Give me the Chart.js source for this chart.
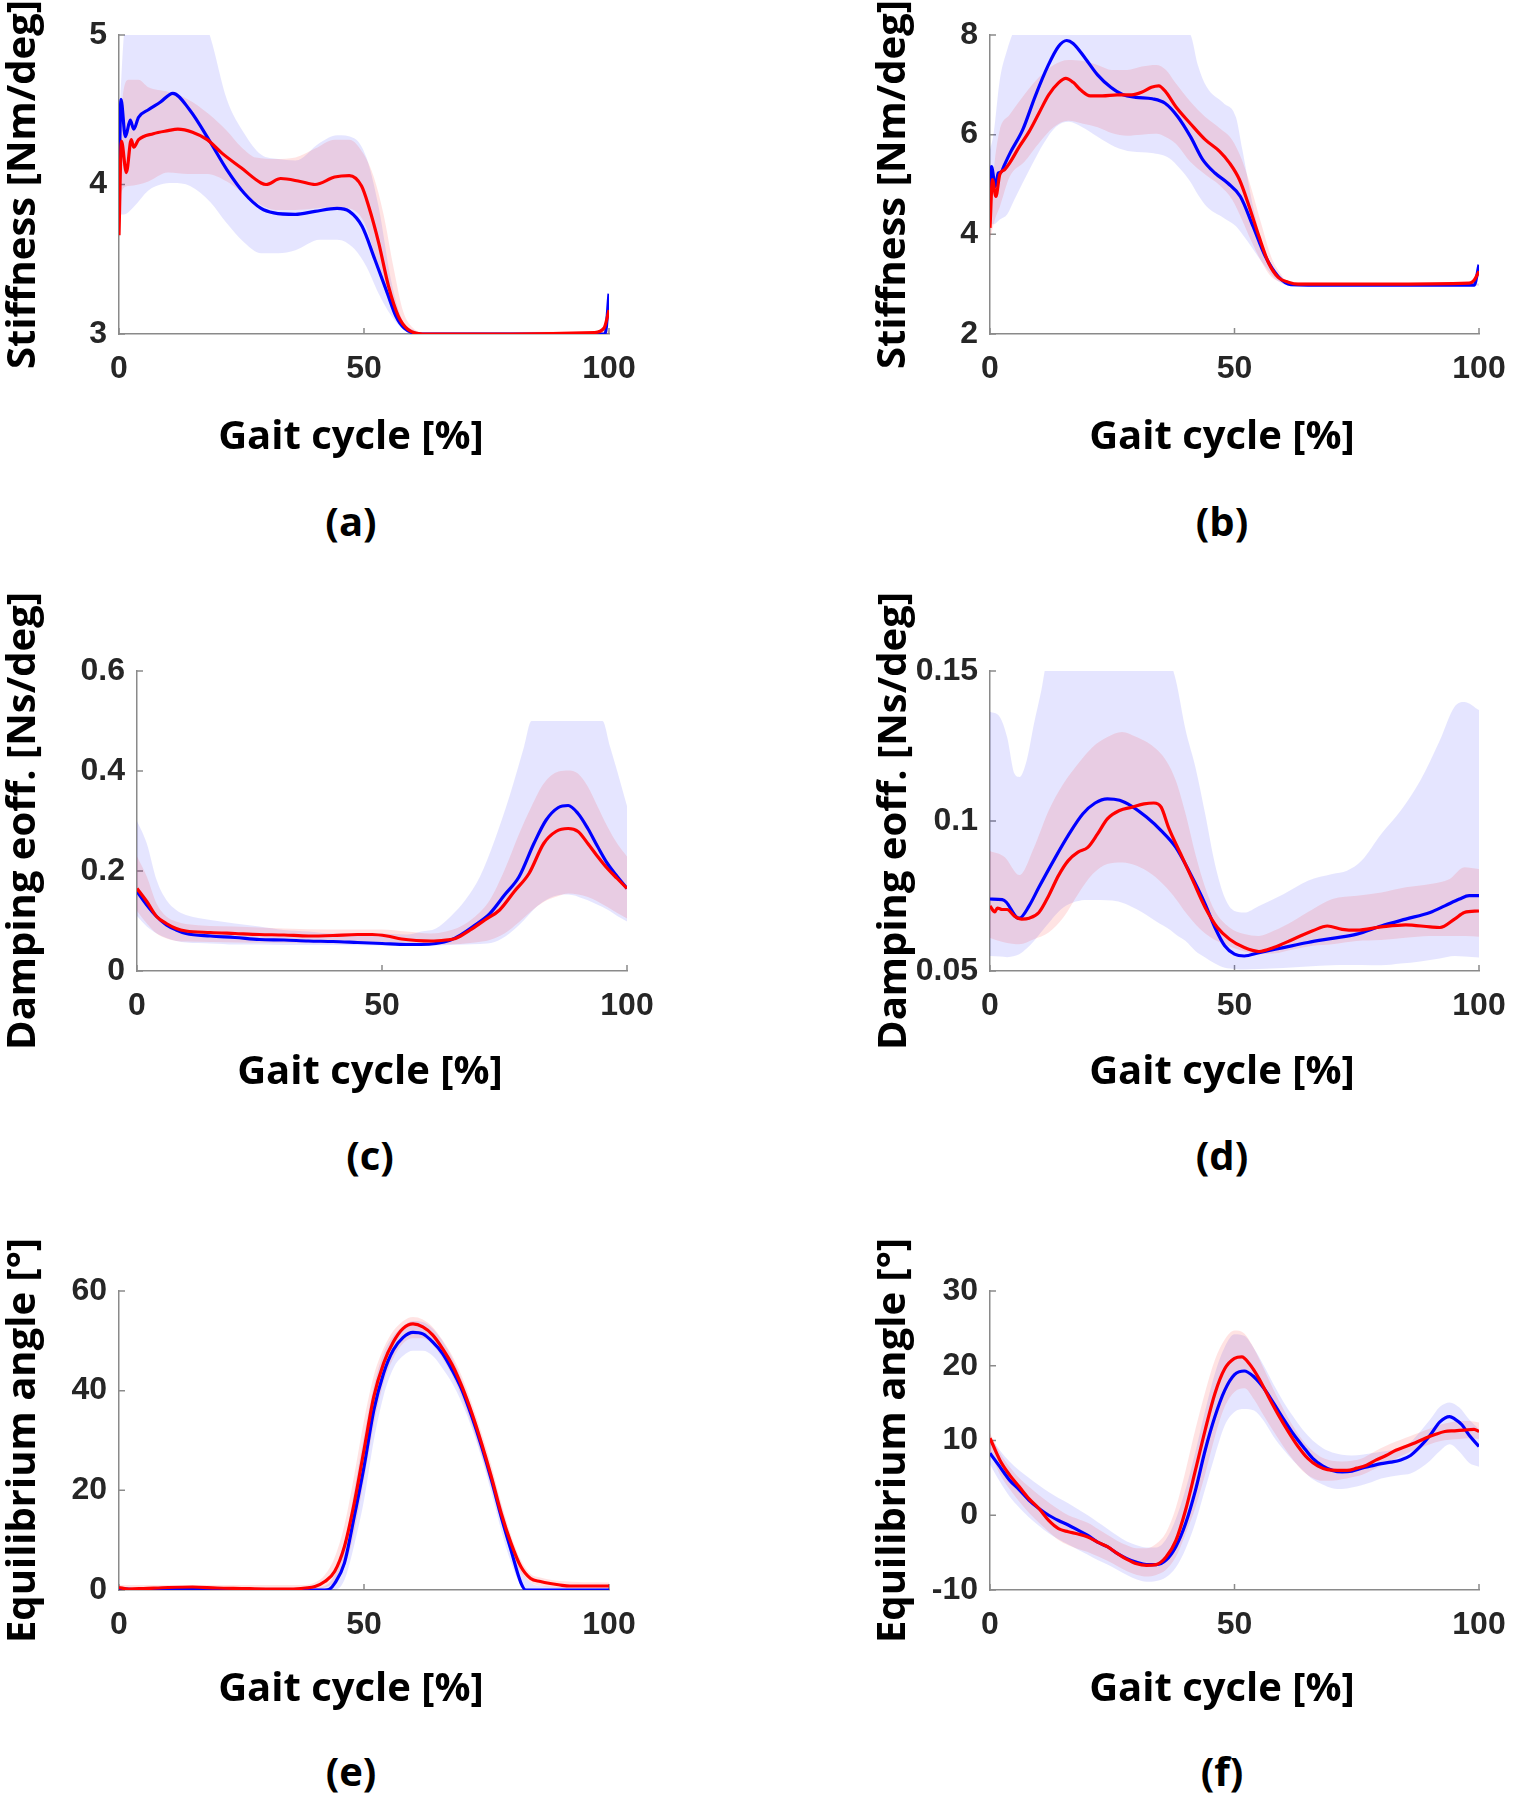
<!DOCTYPE html>
<html>
<head>
<meta charset="utf-8">
<script src="https://cdn.jsdelivr.net/npm/chart.js@4.4.1/dist/chart.umd.min.js"></script>
<style>
  html, body { margin: 0; padding: 0; background: #fff; }
  body { width: 1516px; height: 1800px; position: relative; overflow: hidden; }
  canvas { position: absolute; }
  .lbl { position: absolute; transform: translate(-50%, -50%); font: bold 40px "Open Sans", Lato, sans-serif; color: #000; white-space: nowrap; line-height: 1.2; }
</style>
</head>
<body>
<canvas id="chartA"></canvas>
<canvas id="chartB"></canvas>
<canvas id="chartC"></canvas>
<canvas id="chartD"></canvas>
<canvas id="chartE"></canvas>
<canvas id="chartF"></canvas>

<div class="lbl" style="left:351px; top:434px">Gait cycle [%]</div>
<div class="lbl" style="left:351px; top:521px">(a)</div>
<div class="lbl" style="left:1222px; top:434px">Gait cycle [%]</div>
<div class="lbl" style="left:1222px; top:521px">(b)</div>
<div class="lbl" style="left:370px; top:1069px">Gait cycle [%]</div>
<div class="lbl" style="left:370px; top:1155px">(c)</div>
<div class="lbl" style="left:1222px; top:1069px">Gait cycle [%]</div>
<div class="lbl" style="left:1222px; top:1155px">(d)</div>
<div class="lbl" style="left:351px; top:1686px">Gait cycle [%]</div>
<div class="lbl" style="left:351px; top:1771px">(e)</div>
<div class="lbl" style="left:1222px; top:1686px">Gait cycle [%]</div>
<div class="lbl" style="left:1222px; top:1771px">(f)</div>

<script>
'use strict';

// gait cycle ticks, shared by every panel
let xTicks = [0, 50, 100];

// (a) stiffness
let aTicks = [3, 4, 5];
let aBlue = [[0,3.96],[0.4,4.57],[1.3,4.32],[2.3,4.43],[3,4.37],[4,4.45],[6,4.5],[8.4,4.55],[11,4.61],[14.4,4.5],[18.7,4.28],[22,4.1],[25.6,3.94],[29,3.84],[31.6,3.81],[36,3.8],[40,3.82],[44.5,3.84],[47,3.82],[49.6,3.72],[52.2,3.5],[54.8,3.27],[56.5,3.12],[58.2,3.04],[61.6,3.0],[70,3.0],[80,3.0],[90,3.0],[99.2,3.0],[100,3.27]];
let aRed = [[0,3.66],[0.5,4.29],[1.5,4.08],[2.5,4.3],[3,4.25],[4,4.3],[7,4.34],[10,4.36],[12,4.37],[15,4.35],[18,4.3],[21,4.21],[25,4.11],[29,4.01],[30,4.0],[33,4.04],[37,4.02],[40,4.0],[44,4.05],[47,4.06],[49.5,3.99],[51,3.85],[53,3.61],[55,3.32],[57,3.12],[59,3.03],[62,3.0],[80,3.0],[97,3.01],[99,3.04],[100,3.16]];
let aBlueBandX = [0,1,3,6,8.5,11,14.5,18.7,22,25.6,29,32.5,36,41,44.5,48,50.5,53,55.6,58,60,62,80,100];
let aBlueHigh = [4.4,5.0,5.3,5.4,5.45,5.45,5.35,4.98,4.57,4.34,4.2,4.17,4.16,4.28,4.33,4.31,4.18,3.85,3.35,3.08,3.03,3.01,3.01,3.01];
let aBlueLow = [3.8,3.8,3.85,3.96,4.0,4.01,3.99,3.88,3.74,3.61,3.54,3.54,3.56,3.63,3.63,3.57,3.45,3.27,3.12,3.03,3.0,3.0,2.99,2.99];
let aRedBandX = [0,0.5,2,4,6,10,14,18,22,25,28,32,36,40,44,47,50,52,54,56,58,60,62,100];
let aRedHigh = [3.75,4.5,4.7,4.7,4.65,4.62,4.57,4.48,4.36,4.25,4.18,4.17,4.18,4.24,4.3,4.3,4.2,4.05,3.8,3.45,3.15,3.04,3.01,3.02];
let aRedLow = [3.6,3.95,3.99,4.0,4.02,4.08,4.07,4.07,4.02,3.95,3.88,3.83,3.83,3.84,3.85,3.84,3.75,3.55,3.32,3.15,3.06,3.02,3.0,3.0];

// (b) stiffness
let bTicks = [2, 4, 6, 8];
let bBlue = [[0,4.45],[0.3,5.36],[1.1,4.96],[1.7,5.23],[2.3,5.25],[2.8,5.36],[4.1,5.63],[6.7,6.1],[9.2,6.76],[11.8,7.37],[14,7.77],[15.7,7.89],[17,7.83],[19.5,7.53],[22,7.2],[24.7,6.95],[27.2,6.8],[29.8,6.75],[33.2,6.72],[35.8,6.63],[38.4,6.36],[41,5.96],[43.5,5.5],[46,5.23],[48.6,5.03],[51.2,4.76],[53.8,4.16],[56.3,3.56],[58.9,3.16],[61.5,2.99],[70,2.98],[85,2.98],[99,2.98],[100,3.39]];
let bRed = [[0,4.13],[0.5,5.1],[1.2,4.76],[2,5.2],[3,5.3],[4,5.43],[6,5.76],[8,6.06],[10,6.43],[12,6.8],[14,7.04],[15.5,7.13],[17,7.05],[18.5,6.9],[20.5,6.78],[23,6.78],[26,6.8],[29,6.8],[31,6.85],[33,6.95],[34.5,6.98],[36,6.85],[38,6.56],[41,6.22],[44,5.9],[47,5.66],[49,5.43],[51,5.1],[53,4.56],[55,3.96],[57,3.42],[59,3.13],[61,3.04],[63,3.0],[80,3.0],[98,3.02],[99,3.08],[100,3.26]];
let bBlueBandX = [0,0.7,2,3.5,5,8.4,11,13.5,16.1,18.7,22,25.5,29,33,36.6,39,41,42.5,44.3,47.8,50.3,51.6,53.8,56.3,58.9,62,100];
let bBlueHigh = [5.7,6.0,7.1,7.7,8.1,8.4,8.6,8.7,8.7,8.7,8.6,8.5,8.4,8.3,8.2,8.1,8.0,7.4,6.96,6.63,6.35,5.7,4.56,3.62,3.12,3.0,3.0];
let bBlueLow = [4.2,4.2,4.3,4.4,4.7,5.36,5.83,6.16,6.26,6.16,5.96,5.76,5.66,5.63,5.53,5.3,5.05,4.8,4.56,4.33,4.16,4.0,3.7,3.35,3.06,2.97,2.97];
let bRedBandX = [0,1,2,4,7,10,13,16,19,22,25,28,31,34,36,38,41,44,47,49.5,51.5,53.5,55.5,57.5,59.5,61,100];
let bRedHigh = [4.5,5.5,6.1,6.4,6.8,7.15,7.4,7.5,7.48,7.4,7.3,7.3,7.37,7.4,7.3,7.03,6.66,6.36,6.13,5.9,5.5,4.9,4.2,3.55,3.2,3.05,3.02];
let bRedLow = [3.9,4.3,4.55,5.15,5.45,5.83,6.15,6.28,6.22,6.15,6.03,5.98,6.0,6.02,5.95,5.82,5.45,5.2,4.98,4.7,4.3,3.85,3.45,3.15,3.04,3.0,2.98];

// (c) damping coefficient
let cTicks = [0, 0.2, 0.4, 0.6];
let cBlue = [[0,0.159],[2,0.132],[4,0.109],[6,0.092],[8,0.082],[10,0.075],[15,0.07],[20,0.067],[25,0.063],[30,0.062],[35,0.06],[40,0.059],[45,0.057],[50,0.055],[55,0.053],[58,0.053],[61,0.055],[64,0.062],[66,0.072],[69,0.092],[72,0.115],[75,0.152],[78,0.189],[81,0.255],[83.5,0.302],[86,0.327],[88,0.331],[90,0.315],[92,0.285],[94,0.249],[96,0.215],[98,0.189],[100,0.165]];
let cRed = [[0,0.165],[2,0.139],[4,0.109],[6,0.095],[8,0.085],[10,0.08],[15,0.077],[20,0.075],[25,0.073],[30,0.072],[35,0.07],[40,0.071],[45,0.073],[48,0.073],[51,0.07],[54,0.064],[57,0.061],[60,0.06],[63,0.062],[65,0.065],[68,0.082],[71,0.102],[74,0.122],[77,0.159],[80,0.195],[83,0.255],[85.5,0.279],[88,0.285],[90,0.279],[92,0.255],[94,0.229],[96,0.205],[98,0.185],[100,0.165]];
let cBlueBandX = [0,2,4,6,8,10,15,20,25,30,35,40,50,55,58,61,64,67,70,73,76,79,80.5,82,85,88,91,95,96.5,98,100];
let cBlueHigh = [0.3,0.255,0.182,0.142,0.122,0.112,0.102,0.095,0.089,0.082,0.079,0.075,0.075,0.073,0.079,0.085,0.109,0.142,0.189,0.262,0.349,0.449,0.5,0.5,0.5,0.5,0.5,0.5,0.45,0.4,0.33];
let cBlueLow = [0.11,0.089,0.075,0.066,0.06,0.057,0.055,0.053,0.053,0.052,0.052,0.052,0.051,0.051,0.051,0.051,0.052,0.053,0.054,0.058,0.075,0.102,0.118,0.132,0.149,0.153,0.145,0.128,0.12,0.11,0.099];
let cRedBandX = [0,2,4,6,8,10,20,30,40,50,55,60,63,66,69,72,75,78,80.5,83,86,88,90,92,94,96,98,100];
let cRedHigh = [0.229,0.189,0.135,0.109,0.099,0.094,0.089,0.085,0.083,0.083,0.079,0.075,0.079,0.089,0.109,0.142,0.202,0.275,0.329,0.375,0.399,0.401,0.395,0.369,0.329,0.289,0.255,0.229];
let cRedLow = [0.12,0.095,0.075,0.065,0.06,0.059,0.057,0.056,0.055,0.054,0.053,0.053,0.053,0.054,0.057,0.062,0.075,0.098,0.12,0.138,0.15,0.155,0.153,0.148,0.139,0.128,0.116,0.105];

// (d) damping coefficient
let dTicks = [0.05, 0.1, 0.15];
let dBlue = [[0,0.074],[2.5,0.0738],[3.3,0.073],[5.5,0.0678],[6,0.0676],[8,0.0717],[10,0.0779],[13,0.0868],[16,0.0952],[19,0.1024],[21.5,0.106],[24,0.1074],[26.5,0.1069],[29,0.1049],[32,0.1013],[35,0.0968],[38,0.0912],[41,0.0823],[44,0.0723],[46,0.0645],[48,0.0584],[50,0.0556],[52,0.055],[55,0.0561],[60,0.0578],[65,0.0595],[70,0.0609],[75,0.0623],[80,0.065],[85,0.0673],[90,0.0695],[93,0.0717],[96,0.074],[98,0.0751],[100,0.0751]];
let dRed = [[0,0.0717],[1,0.0697],[1.5,0.071],[2.5,0.0705],[3.5,0.0705],[5,0.0683],[6.5,0.0673],[8,0.0676],[10,0.0695],[12,0.0751],[14,0.0818],[16,0.0868],[18,0.0896],[20,0.0912],[22,0.0957],[24,0.1007],[26.5,0.1035],[29,0.1046],[31.5,0.1057],[33.5,0.106],[35,0.1046],[36.5,0.0979],[39,0.089],[41.5,0.0801],[44,0.0712],[46.5,0.0645],[49,0.0606],[52,0.0578],[55,0.0565],[58,0.0578],[62,0.0606],[66,0.0634],[69,0.065],[72,0.0639],[75,0.0636],[80,0.0647],[85,0.0654],[90,0.0647],[92,0.0645],[95,0.0673],[97,0.0695],[100,0.07]];
let dBlueBandX = [0,2,3.5,5,6,7.5,9,10.5,11.5,15,20,25,30,34,37,38,40,42,44,46,48,50,52,55,60,65,70,73,76,80,84,88,92,95,97,100];
let dBlueHigh = [0.1364,0.1347,0.128,0.1158,0.1147,0.1202,0.1325,0.1436,0.152,0.156,0.157,0.157,0.156,0.155,0.152,0.147,0.1303,0.118,0.1024,0.0857,0.0745,0.07,0.0695,0.0717,0.0756,0.0801,0.0823,0.0834,0.0868,0.0957,0.1035,0.1135,0.1269,0.1381,0.1397,0.137];
let dBlueLow = [0.055,0.0548,0.0546,0.055,0.0556,0.0575,0.06,0.063,0.065,0.0712,0.0737,0.0735,0.0706,0.0665,0.0635,0.0622,0.06,0.0567,0.0545,0.0525,0.0511,0.0507,0.0505,0.0507,0.051,0.0515,0.0519,0.052,0.052,0.0519,0.0525,0.0532,0.0542,0.055,0.0548,0.0545];
let dRedBandX = [0,3,6,9,12,15,18,21,24,27,30,33,36,38,40,42,44,46,49,52,55,58,62,66,70,75,80,85,90,94,97,100];
let dRedHigh = [0.09,0.088,0.082,0.0912,0.1035,0.1124,0.1191,0.1247,0.128,0.1297,0.128,0.1253,0.1202,0.1135,0.1024,0.089,0.0779,0.07,0.0645,0.0623,0.0617,0.0634,0.0667,0.0706,0.074,0.0751,0.0762,0.0779,0.079,0.0807,0.0846,0.084];
let dRedLow = [0.061,0.0595,0.0589,0.0606,0.0628,0.0678,0.0756,0.0823,0.0857,0.0862,0.0851,0.0823,0.0779,0.074,0.0695,0.0656,0.0625,0.0603,0.0582,0.0565,0.0556,0.0558,0.0572,0.0584,0.0589,0.06,0.0603,0.0611,0.0617,0.0617,0.0617,0.0614];

// (e) equilibrium angle
let eTicks = [0, 20, 40, 60];
let eBlue = [[0,0.3],[5,0],[10,0.3],[15,0.2],[20,0.1],[30,0],[40,0],[42,0],[43,0.2],[44,1.3],[46,5.4],[48,14.7],[50,24.7],[52,36.1],[54,43.5],[56,48.2],[58,50.7],[60,51.7],[62,51.4],[64,49.8],[66,47.5],[68,44.1],[70,40.1],[72,34.8],[74,28.8],[76,22.1],[78,14.7],[80,8],[82,1.5],[83,0],[90,0],[100,0]];
let eRed = [[0,0.5],[2,0.2],[5,0.3],[10,0.5],[15,0.6],[20,0.4],[25,0.3],[30,0.2],[35,0.2],[38,0.4],[40,0.7],[42,1.7],[44,3.7],[46,8.7],[48,17.4],[50,28.1],[52,38.8],[54,45.5],[56,49.8],[58,52.5],[60,53.4],[62,52.8],[64,51.2],[66,48.5],[68,45.2],[70,40.8],[72,35.5],[74,29.4],[76,22.7],[78,15.4],[80,9.4],[82,4.7],[84,2.3],[86,1.7],[88,1.3],[90,1.0],[92,0.8],[100,0.8]];
let eBlueBandX = [0,40,42,44,46,48,50,52,54,56,58,60,62,64,66,68,70,72,74,76,78,80,82,84,86,100];
let eBlueHigh = [0.5,0.5,0.8,3,9,20,31,41,47.5,51,53,54,53.8,52.5,50,46.5,42,36.5,30.5,24,17,10,4,1.5,0.8,0.5];
let eBlueLow = [0,0,0,0,2,9,18,30,39,44.5,47,48,48,47,44.5,41.5,37.5,32.5,26.5,19.5,12,5.5,1,0,0,0];
let eRedBandX = [0,38,40,42,44,46,48,50,52,54,56,58,60,62,64,66,68,70,72,74,76,78,80,82,84,86,90,100];
let eRedHigh = [1,1,1.5,3,6.5,13,23,34,43,48.5,52,54,54.8,54.3,52.8,50.2,47,42.8,37.5,31.5,25,17.5,11,6,3.2,2.5,1.8,1.5];
let eRedLow = [0,0,0,0.5,1.5,4.5,11.5,22,33,41.5,46.5,49.5,50.5,50.5,49.2,46.5,43,38.5,33,27,20.5,13.5,7.5,3.5,1.5,0.8,0.4,0.2];

// (f) equilibrium angle
let fTicks = [-10, 0, 10, 20, 30];
let fBlue = [[0,8.3],[2,6.5],[4,4.7],[6,3.4],[8,2.0],[10,0.9],[12,0],[14,-0.7],[16,-1.3],[18,-2.0],[20,-2.7],[22,-3.6],[24,-4.2],[26,-5.1],[28,-5.8],[30,-6.3],[32,-6.6],[34,-6.6],[36,-6.0],[38,-4.2],[40,-1.1],[42,3.3],[44,8.7],[46,13.2],[48,16.7],[50,18.8],[52,19.3],[54,18.5],[56,17.0],[58,15.0],[60,12.9],[62,10.9],[64,9.2],[66,7.6],[68,6.6],[70,6.0],[72,5.8],[74,5.9],[76,6.3],[78,6.6],[80,6.9],[82,7.1],[84,7.4],[86,8.0],[88,9.2],[90,10.7],[92,12.5],[94,13.2],[95,12.9],[96.5,12.1],[98,10.7],[100,9.2]];
let fRed = [[0,10.3],[2,7.4],[4,5.4],[6,3.8],[8,2.2],[10,0.9],[12,-0.7],[14,-1.8],[16,-2.2],[18,-2.5],[20,-2.9],[22,-3.6],[24,-4.2],[26,-5.1],[28,-5.9],[30,-6.5],[32,-6.7],[34,-6.6],[36,-5.6],[38,-3.4],[40,0.7],[42,6.0],[44,11.4],[46,16.3],[48,19.6],[50,21.0],[51.5,21.2],[53,20.3],[55,18.3],[57,15.8],[59,13.4],[61,11.2],[63,9.2],[65,7.6],[67,6.6],[69,6.1],[71,6.0],[73,6.0],[75,6.3],[77,6.7],[79,7.4],[81,8.0],[83,8.7],[85,9.2],[87,9.7],[89,10.3],[91,10.8],[93,11.2],[95,11.3],[97,11.4],[99,11.5],[100,11.2]];
let fBandX = [0,2,4,6,8,10,12,14,16,18,20,22,24,26,28,30,32,34,36,38,40,42,44,46,48,50,52,54,56,58,60,62,64,66,68,70,72,74,76,78,80,82,84,86,88,90,92,94,96,98,100];
let fBlueHigh = [10.5,8.7,7.2,6.0,5.0,4.0,3.1,2.3,1.6,0.8,0,-0.9,-1.8,-2.7,-3.5,-4.0,-4.3,-4.3,-3.2,-0.5,3.5,8.5,14,19,22.5,24.2,24.0,22.3,20,17.5,15.2,13.2,11.4,10.0,9.0,8.4,8.1,8.0,8.1,8.3,8.5,8.7,9.0,9.8,11.2,12.8,14.5,15.1,14.4,12.8,11.5];
let fBlueLow = [6.8,4.5,2.5,1.0,-0.3,-1.4,-2.4,-3.2,-3.9,-4.6,-5.3,-6.0,-6.6,-7.3,-8.0,-8.6,-8.9,-8.8,-8.3,-7.0,-4.5,-1,3.5,8.0,12.0,13.8,14.2,14.0,12.6,10.5,8.8,7.3,6.0,4.8,4.1,3.6,3.5,3.7,4.0,4.4,4.9,5.2,5.4,5.6,6.3,7.3,8.6,9.5,8.5,7.0,6.5];
let fRedHigh = [11,8.4,6.5,5.0,3.8,2.7,1.7,0.8,0,-0.5,-1.0,-1.8,-2.6,-3.4,-4.0,-4.4,-4.4,-3.8,-2.3,1,6,11.5,16.5,20.8,23.5,24.7,24.3,22.3,19.6,16.8,14.2,11.9,10.0,8.6,7.7,7.3,7.2,7.3,7.6,8.3,9.0,9.6,10.1,10.6,11.1,11.6,12.1,12.4,12.6,12.6,12.4];
let fRedLow = [8.5,5.5,3.5,1.8,0.3,-1.0,-2.2,-3.3,-4.0,-4.5,-4.9,-5.5,-6.1,-6.8,-7.5,-8.0,-8.2,-8.0,-7.3,-5.6,-2.5,1.0,5.5,10.5,14.5,16.5,17.0,15.5,13.3,11.2,9.2,7.4,5.9,5.0,4.6,4.6,4.8,5.1,5.4,6.0,6.6,7.2,7.9,8.5,9.0,9.5,9.9,10.1,10.2,10.3,10.2];

let BLUE = '#0000ff';
let RED = '#ff0000';
let BLUE_FILL = 'rgba(0, 0, 255, 0.1)';
let RED_FILL = 'rgba(255, 0, 0, 0.11)';
let AXIS = '#8a8a8a';
let TICK_FONT = { family: '"Liberation Sans", Arial, sans-serif', weight: 'bold', size: 32 };
let TITLE_FONT = { family: '"Open Sans", Lato, sans-serif', weight: 'bold', size: 40 };

function lineSet(label, pairs, color, order) {
    return {
        label: label,
        data: pairs.map(p => ({ x: p[0], y: p[1] })),
        borderColor: color,
        borderWidth: 3.2,
        pointRadius: 0,
        fill: false,
        cubicInterpolationMode: 'monotone',
        order: order
    };
}

function bandSets(label, xs, high, low, color, order) {
    return [{
        label: label + ' upper',
        data: xs.map((x, i) => ({ x: x, y: high[i] })),
        borderColor: 'rgba(0,0,0,0)',
        borderWidth: 0,
        pointRadius: 0,
        backgroundColor: color,
        fill: '+1',
        cubicInterpolationMode: 'monotone',
        order: order
    }, {
        label: label + ' lower',
        data: xs.map((x, i) => ({ x: x, y: low[i] })),
        borderColor: 'rgba(0,0,0,0)',
        borderWidth: 0,
        pointRadius: 0,
        fill: false,
        cubicInterpolationMode: 'monotone',
        order: order
    }];
}

// small inward tick marks like the original axes
let innerTicks = {
    id: 'innerTicks',
    beforeDatasetsDraw(chart) {
        let ctx = chart.ctx;
        let area = chart.chartArea;
        let x = chart.scales.x;
        let y = chart.scales.y;
        ctx.save();
        ctx.strokeStyle = AXIS;
        ctx.lineWidth = 1.5;
        ctx.beginPath();
        x.ticks.forEach(t => {
            let px = x.getPixelForValue(t.value);
            ctx.moveTo(px, area.bottom);
            ctx.lineTo(px, area.bottom - 6);
        });
        y.ticks.forEach(t => {
            let py = y.getPixelForValue(t.value);
            ctx.moveTo(area.left, py);
            ctx.lineTo(area.left + 6, py);
        });
        ctx.stroke();
        ctx.restore();
    }
};

// canvas placement: chart area edges follow the original figure
let panels = [
    { id: 'chartA', left: 0, top: 0, width: 700, height: 414, yw: 119, pr: 91, pt: 35, tp: 0,
      yTitle: 'Stiffness [Nm/deg]', ticks: aTicks,
      blue: aBlue, red: aRed, blueBand: [aBlueBandX, aBlueHigh, aBlueLow], redBand: [aRedBandX, aRedHigh, aRedLow] },
    { id: 'chartB', left: 860, top: 0, width: 700, height: 414, yw: 130, pr: 81, pt: 35, tp: 10,
      yTitle: 'Stiffness [Nm/deg]', ticks: bTicks,
      blue: bBlue, red: bRed, blueBand: [bBlueBandX, bBlueHigh, bBlueLow], redBand: [bRedBandX, bRedHigh, bRedLow] },
    { id: 'chartC', left: 0, top: 580, width: 700, height: 471, yw: 137, pr: 73, pt: 91, tp: 0,
      yTitle: 'Damping eoff. [Ns/deg]', ticks: cTicks,
      blue: cBlue, red: cRed, blueBand: [cBlueBandX, cBlueHigh, cBlueLow], redBand: [cRedBandX, cRedHigh, cRedLow] },
    { id: 'chartD', left: 860, top: 580, width: 700, height: 471, yw: 130, pr: 81, pt: 91, tp: 11,
      yTitle: 'Damping eoff. [Ns/deg]', ticks: dTicks,
      blue: dBlue, red: dRed, blueBand: [dBlueBandX, dBlueHigh, dBlueLow], redBand: [dRedBandX, dRedHigh, dRedLow] },
    { id: 'chartE', left: 0, top: 1200, width: 700, height: 470, yw: 119, pr: 91, pt: 91, tp: 0,
      yTitle: 'Equilibrium angle [°]', ticks: eTicks,
      blue: eBlue, red: eRed, blueBand: [eBlueBandX, eBlueHigh, eBlueLow], redBand: [eRedBandX, eRedHigh, eRedLow] },
    { id: 'chartF', left: 860, top: 1200, width: 700, height: 470, yw: 130, pr: 81, pt: 91, tp: 10,
      yTitle: 'Equilibrium angle [°]', ticks: fTicks,
      blue: fBlue, red: fRed, blueBand: [fBandX, fBlueHigh, fBlueLow], redBand: [fBandX, fRedHigh, fRedLow] }
];

function makeChart(p) {
    let canvas = document.getElementById(p.id);
    canvas.width = p.width;
    canvas.height = p.height;
    canvas.style.left = p.left + 'px';
    canvas.style.top = p.top + 'px';
    let yTicks = p.ticks;
    let datasets = []
        .concat(bandSets('blue', p.blueBand[0], p.blueBand[1], p.blueBand[2], BLUE_FILL, 4))
        .concat(bandSets('red', p.redBand[0], p.redBand[1], p.redBand[2], RED_FILL, 3))
        .concat([lineSet('blue', p.blue, BLUE, 2), lineSet('red', p.red, RED, 1)]);

    return new Chart(canvas.getContext('2d'), {
        type: 'line',
        data: { datasets: datasets },
        options: {
            responsive: false,
            animation: false,
            devicePixelRatio: 1,
            layout: { padding: { left: 0, right: p.pr, top: p.pt, bottom: 0 } },
            plugins: { legend: { display: false }, tooltip: { enabled: false } },
            scales: {
                x: {
                    type: 'linear',
                    min: 0,
                    max: 100,
                    afterBuildTicks: s => { s.ticks = xTicks.map(v => ({ value: v })); },
                    afterFit: s => { s.height = 80; },
                    grid: { display: false, drawTicks: false },
                    border: { display: true, color: AXIS, width: 1.5 },
                    ticks: { color: '#262626', font: TICK_FONT, padding: 16, maxRotation: 0 }
                },
                y: {
                    type: 'linear',
                    min: yTicks[0],
                    max: yTicks[yTicks.length - 1],
                    afterBuildTicks: s => { s.ticks = yTicks.map(v => ({ value: v })); },
                    afterFit: s => { s.width = p.yw; },
                    grid: { display: false, drawTicks: false },
                    border: { display: true, color: AXIS, width: 1.5 },
                    ticks: { color: '#262626', font: TICK_FONT, padding: 12, callback: v => String(v) },
                    title: { display: true, text: p.yTitle, color: '#000', font: TITLE_FONT, padding: { top: p.tp, bottom: 0 } }
                }
            }
        },
        plugins: [innerTicks]
    });
}

Promise.all([
    document.fonts.load('bold 40px "Open Sans"'),
    document.fonts.load('bold 32px "Liberation Sans"')
]).catch(() => null).then(() => {
    panels.forEach(makeChart);
});
</script>
</body>
</html>
